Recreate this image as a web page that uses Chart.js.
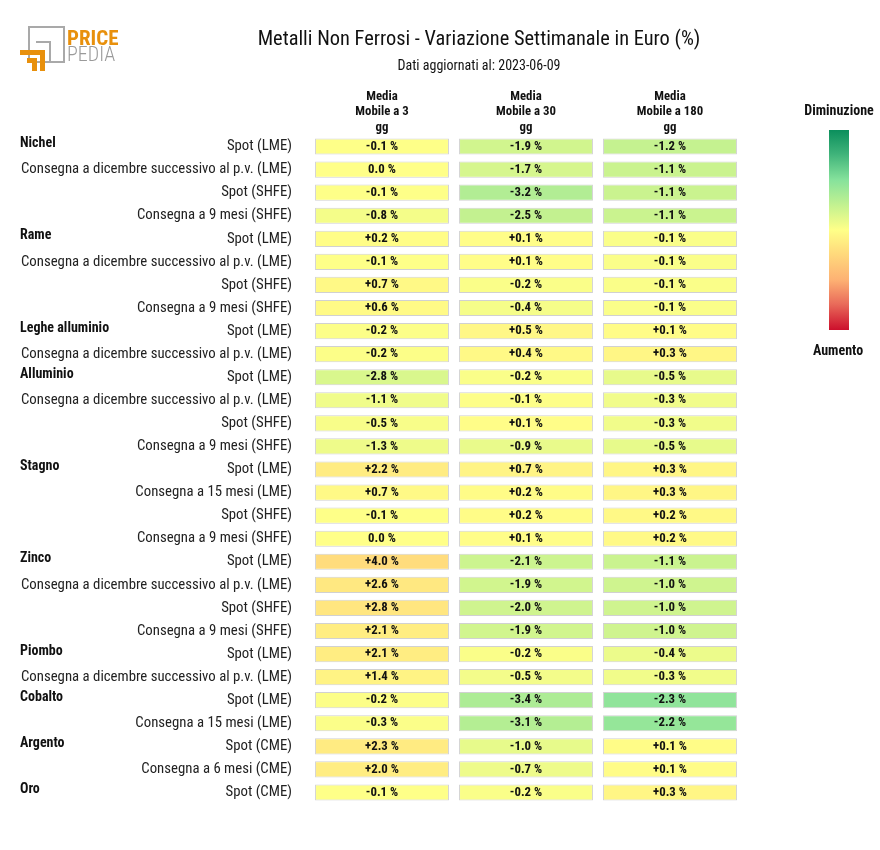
<!DOCTYPE html>
<html>
<head>
<meta charset="utf-8">
<script src="https://cdn.jsdelivr.net/npm/chart.js@4/dist/chart.umd.min.js"></script>
<style>
  html, body { margin: 0; padding: 0; background: #fff; }
  #wrap { width: 880px; height: 850px; }
</style>
</head>
<body>
<div id="wrap"><canvas id="c" width="880" height="850"></canvas></div>
<script>
const FONT = '"Roboto Condensed", "Liberation Sans Narrow", Roboto, sans-serif';

const titleText = 'Metalli Non Ferrosi - Variazione Settimanale in Euro (%)';
const subtitleText = 'Dati aggiornati al: 2023-06-09';

const colHeaders = [
  ['Media', 'Mobile a 3', 'gg'],
  ['Media', 'Mobile a 30', 'gg'],
  ['Media', 'Mobile a 180', 'gg']
];

const rowMetals = [
  'Nichel', 'Nichel', 'Nichel', 'Nichel',
  'Rame', 'Rame', 'Rame', 'Rame',
  'Leghe alluminio', 'Leghe alluminio',
  'Alluminio', 'Alluminio', 'Alluminio', 'Alluminio',
  'Stagno', 'Stagno', 'Stagno', 'Stagno',
  'Zinco', 'Zinco', 'Zinco', 'Zinco',
  'Piombo', 'Piombo',
  'Cobalto', 'Cobalto',
  'Argento', 'Argento',
  'Oro'
];

const rowLabels = [
  'Spot (LME)', 'Consegna a dicembre successivo al p.v. (LME)', 'Spot (SHFE)', 'Consegna a 9 mesi (SHFE)',
  'Spot (LME)', 'Consegna a dicembre successivo al p.v. (LME)', 'Spot (SHFE)', 'Consegna a 9 mesi (SHFE)',
  'Spot (LME)', 'Consegna a dicembre successivo al p.v. (LME)',
  'Spot (LME)', 'Consegna a dicembre successivo al p.v. (LME)', 'Spot (SHFE)', 'Consegna a 9 mesi (SHFE)',
  'Spot (LME)', 'Consegna a 15 mesi (LME)', 'Spot (SHFE)', 'Consegna a 9 mesi (SHFE)',
  'Spot (LME)', 'Consegna a dicembre successivo al p.v. (LME)', 'Spot (SHFE)', 'Consegna a 9 mesi (SHFE)',
  'Spot (LME)', 'Consegna a dicembre successivo al p.v. (LME)',
  'Spot (LME)', 'Consegna a 15 mesi (LME)',
  'Spot (CME)', 'Consegna a 6 mesi (CME)',
  'Spot (CME)'
];

const ma3 = [-0.1, 0.0, -0.1, -0.8, 0.2, -0.1, 0.7, 0.6, -0.2, -0.2, -2.8, -1.1, -0.5, -1.3, 2.2, 0.7, -0.1, 0.0, 4.0, 2.6, 2.8, 2.1, 2.1, 1.4, -0.2, -0.3, 2.3, 2.0, -0.1];
const ma30 = [-1.9, -1.7, -3.2, -2.5, 0.1, 0.1, -0.2, -0.4, 0.5, 0.4, -0.2, -0.1, 0.1, -0.9, 0.7, 0.2, 0.2, 0.1, -2.1, -1.9, -2.0, -1.9, -0.2, -0.5, -3.4, -3.1, -1.0, -0.7, -0.2];
const ma180 = [-1.2, -1.1, -1.1, -1.1, -0.1, -0.1, -0.1, -0.1, 0.1, 0.3, -0.5, -0.3, -0.3, -0.5, 0.3, 0.3, 0.2, 0.2, -1.1, -1.0, -1.0, -1.0, -0.4, -0.3, -2.3, -2.2, 0.1, 0.1, 0.3];

const columns = [ma3, ma30, ma180];
const colorExtent = [18, 10, 5];

const legendTop = 'Diminuzione';
const legendBottom = 'Aumento';

// colour ramp: position 0 = strong decrease (green), 1 = strong increase (red)
const rampStops = [
  [0.00, [11, 143, 92]],
  [0.12, [63, 179, 122]],
  [0.25, [134, 226, 156]],
  [0.38, [197, 242, 144]],
  [0.50, [255, 255, 136]],
  [0.62, [255, 217, 124]],
  [0.75, [253, 177, 115]],
  [0.87, [233, 107, 90]],
  [1.00, [204, 15, 44]]
];

function rampColor(p) {
  p = Math.max(0, Math.min(1, p));
  for (let i = 1; i < rampStops.length; i++) {
    const [p1, c1] = rampStops[i];
    const [p0, c0] = rampStops[i - 1];
    if (p <= p1) {
      const t = (p - p0) / (p1 - p0);
      const c = c0.map((v, k) => Math.round(v + (c1[k] - v) * t));
      return 'rgb(' + c.join(',') + ')';
    }
  }
  return 'rgb(' + rampStops[rampStops.length - 1][1].join(',') + ')';
}

function fmt(v) {
  if (v === 0) return '0.0 %';
  return (v > 0 ? '+' : '-') + Math.abs(v).toFixed(1) + ' %';
}

const HALF = 0.465;
const datasets = columns.map((vals, c) => ({
  label: colHeaders[c].join(' '),
  data: vals.map(() => [c - HALF, c + HALF]),
  values: vals,
  backgroundColor: vals.map(v => rampColor(0.5 + v / (2 * colorExtent[c]))),
  borderColor: 'rgba(0,0,0,0.18)',
  borderWidth: 1,
  borderSkipped: false,
  grouped: false,
  barPercentage: 0.7,
  categoryPercentage: 1.0
}));

const cellText = {
  id: 'cellText',
  afterDatasetsDraw(chart) {
    const ctx = chart.ctx;
    ctx.save();
    ctx.font = 'bold 12.8px ' + FONT;
    ctx.fillStyle = '#111';
    ctx.textAlign = 'center';
    ctx.textBaseline = 'middle';
    chart.data.datasets.forEach((ds, di) => {
      const meta = chart.getDatasetMeta(di);
      meta.data.forEach((el, i) => {
        const p = el.getCenterPoint();
        ctx.fillText(fmt(ds.values[i]), p.x, p.y);
      });
    });
    ctx.restore();
  }
};

const decor = {
  id: 'decor',
  afterDraw(chart) {
    const ctx = chart.ctx;
    const y = chart.scales.y;
    ctx.save();
    // group names
    ctx.font = 'bold 14px ' + FONT;
    ctx.fillStyle = '#111';
    ctx.textAlign = 'left';
    ctx.textBaseline = 'middle';
    rowMetals.forEach((m, i) => {
      if (i === 0 || rowMetals[i - 1] !== m) {
        ctx.fillText(m, 20, y.getPixelForValue(i) - 3);
      }
    });
    // title
    ctx.textAlign = 'center';
    ctx.fillStyle = '#111';
    ctx.font = '20.4px ' + FONT;
    ctx.fillText(titleText, 479, 40);
    ctx.font = '14px ' + FONT;
    ctx.fillText(subtitleText, 479, 66);
    // colour bar legend
    const bx = 829, bw = 20, bt = 130, bb = 330;
    const g = ctx.createLinearGradient(0, bt, 0, bb);
    rampStops.forEach(([p, c]) => g.addColorStop(p, 'rgb(' + c.join(',') + ')'));
    ctx.fillStyle = g;
    ctx.fillRect(bx, bt, bw, bb - bt);
    ctx.fillStyle = '#111';
    ctx.font = 'bold 14px ' + FONT;
    ctx.fillText(legendTop, 839, 111);
    ctx.fillText(legendBottom, 838, 351);
    // logo
    ctx.strokeStyle = '#a9a9a9';
    ctx.lineWidth = 2;
    ctx.strokeRect(29, 27, 35, 35);
    ctx.beginPath();
    ctx.moveTo(36, 42); ctx.lineTo(50, 42); ctx.lineTo(50, 62);
    ctx.stroke();
    ctx.fillStyle = '#e8900c';
    ctx.beginPath();
    ctx.moveTo(20, 50); ctx.lineTo(45, 50); ctx.lineTo(45, 71); ctx.lineTo(40, 71);
    ctx.lineTo(40, 55); ctx.lineTo(20, 55); ctx.closePath();
    ctx.fill();
    ctx.beginPath();
    ctx.moveTo(27, 58); ctx.lineTo(37, 58); ctx.lineTo(37, 71); ctx.lineTo(32, 71);
    ctx.lineTo(32, 63); ctx.lineTo(27, 63); ctx.closePath();
    ctx.fill();
    ctx.textAlign = 'left';
    ctx.textBaseline = 'alphabetic';
    ctx.font = 'bold 21px ' + FONT;
    ctx.fillStyle = '#e8900c';
    ctx.fillText('PRICE', 67, 45);
    ctx.font = '300 20px ' + FONT;
    ctx.fillStyle = '#9a9a9a';
    ctx.fillText('PEDIA', 67, 61);
    ctx.restore();
  }
};

new Chart(document.getElementById('c'), {
  type: 'bar',
  data: { labels: rowLabels, datasets },
  plugins: [cellText, decor],
  options: {
    indexAxis: 'y',
    responsive: false,
    animation: false,
    layout: { padding: { top: 89, right: 138, bottom: 46, left: 0 } },
    plugins: {
      legend: { display: false },
      title: { display: false },
      tooltip: { enabled: false }
    },
    scales: {
      x: {
        type: 'linear',
        position: 'top',
        min: -0.5,
        max: 2.5,
        grid: { display: false, drawTicks: false },
        border: { display: false },
        afterBuildTicks(scale) { scale.ticks = [{ value: 0 }, { value: 1 }, { value: 2 }]; },
        afterFit(scale) { scale.height = 46; },
        ticks: {
          padding: 0,
          color: '#111',
          font: { family: FONT, size: 12.8, weight: 'bold', lineHeight: 1.2 },
          callback: (v) => colHeaders[v]
        }
      },
      y: {
        type: 'category',
        grid: { display: false, drawTicks: false },
        border: { display: false },
        afterFit(scale) { scale.width = 310; },
        ticks: {
          padding: 18,
          color: '#222',
          autoSkip: false,
          font: { family: FONT, size: 14.8 }
        }
      }
    }
  }
});
</script>
</body>
</html>
